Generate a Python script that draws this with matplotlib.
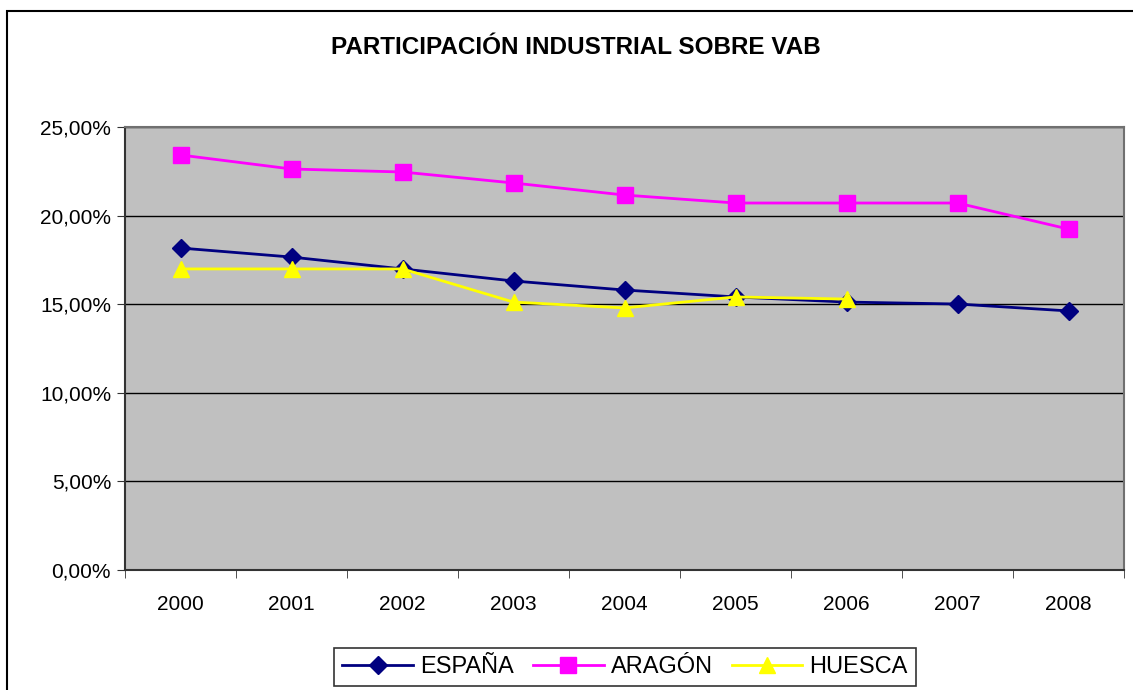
import matplotlib
matplotlib.use("Agg")
import matplotlib.pyplot as plt
from matplotlib.patches import Rectangle
from matplotlib.ticker import FuncFormatter, MultipleLocator
import numpy as np

plt.rcParams['font.family'] = ['Liberation Sans', 'DejaVu Sans']

years = ['2000', '2001', '2002', '2003', '2004', '2005', '2006', '2007', '2008']
espana = [18.17, 17.66, 16.99, 16.31, 15.80, 15.41, 15.12, 15.01, 14.62]
aragon = [23.42, 22.63, 22.46, 21.84, 21.16, 20.71, 20.71, 20.71, 19.24]
huesca = [16.99, 16.99, 16.99, 15.12, 14.79, 15.41, 15.29]

W, H = 1133, 690
fig = plt.figure(figsize=(W / 100, H / 100), dpi=100)
ax = fig.add_axes([125 / W, 1 - 570 / H, (1124 - 125) / W, (570 - 127) / H])
ax.set_facecolor('#c0c0c0')

x = np.arange(len(years))
ax.plot(x, espana, color='#000080', lw=2, marker='D', ms=9, label='ESPAÑA', zorder=3)
ax.plot(x, aragon, color='#ff00ff', lw=2, marker='s', ms=11, label='ARAGÓN', zorder=3)
ax.plot(x[:len(huesca)], huesca, color='#ffff00', lw=2, marker='^', ms=11, label='HUESCA', zorder=4)

ax.set_xlim(-0.5, len(years) - 0.5)
ax.set_ylim(0, 25)
ax.yaxis.set_major_locator(MultipleLocator(5))
ax.yaxis.set_major_formatter(FuncFormatter(lambda v, p: f"{v:.2f}".replace('.', ',') + '%'))
ax.set_xticks(x)
ax.set_xticklabels(years)
ax.set_xticks(np.arange(-0.5, len(years), 1), minor=True)
ax.tick_params(axis='x', which='major', length=0, pad=18, labelsize=15)
ax.tick_params(axis='x', which='minor', length=6, direction='out', color='#333333')
ax.tick_params(axis='y', length=6, direction='out', labelsize=15, pad=4, color='#333333')
ax.grid(axis='y', color='black', lw=1)
ax.set_axisbelow(True)
for s in ['left', 'bottom']:
    ax.spines[s].set_color('#333333')
    ax.spines[s].set_linewidth(1.5)
for s in ['top', 'right']:
    ax.spines[s].set_color('#707070')
    ax.spines[s].set_linewidth(1.5)

fig.text(576 / W, 1 - 48 / H, 'PARTICIPACIÓN INDUSTRIAL SOBRE VAB', ha='center', va='center',
         fontsize=17.5, fontweight='bold')

leg = fig.legend(loc='center', bbox_to_anchor=(625 / W, 1 - 667 / H), ncol=3, fontsize=17,
                 frameon=True, fancybox=False, edgecolor='black', handlelength=3,
                 columnspacing=0.8, handletextpad=0.3, borderpad=0.35)
leg.get_frame().set_linewidth(1.2)

fig.patches.append(Rectangle((7 / W, -0.1), 1.2, 1 - 11 / H + 0.1, transform=fig.transFigure,
                             fill=False, edgecolor='black', lw=1.5))

fig.savefig('out.png', dpi=100)
